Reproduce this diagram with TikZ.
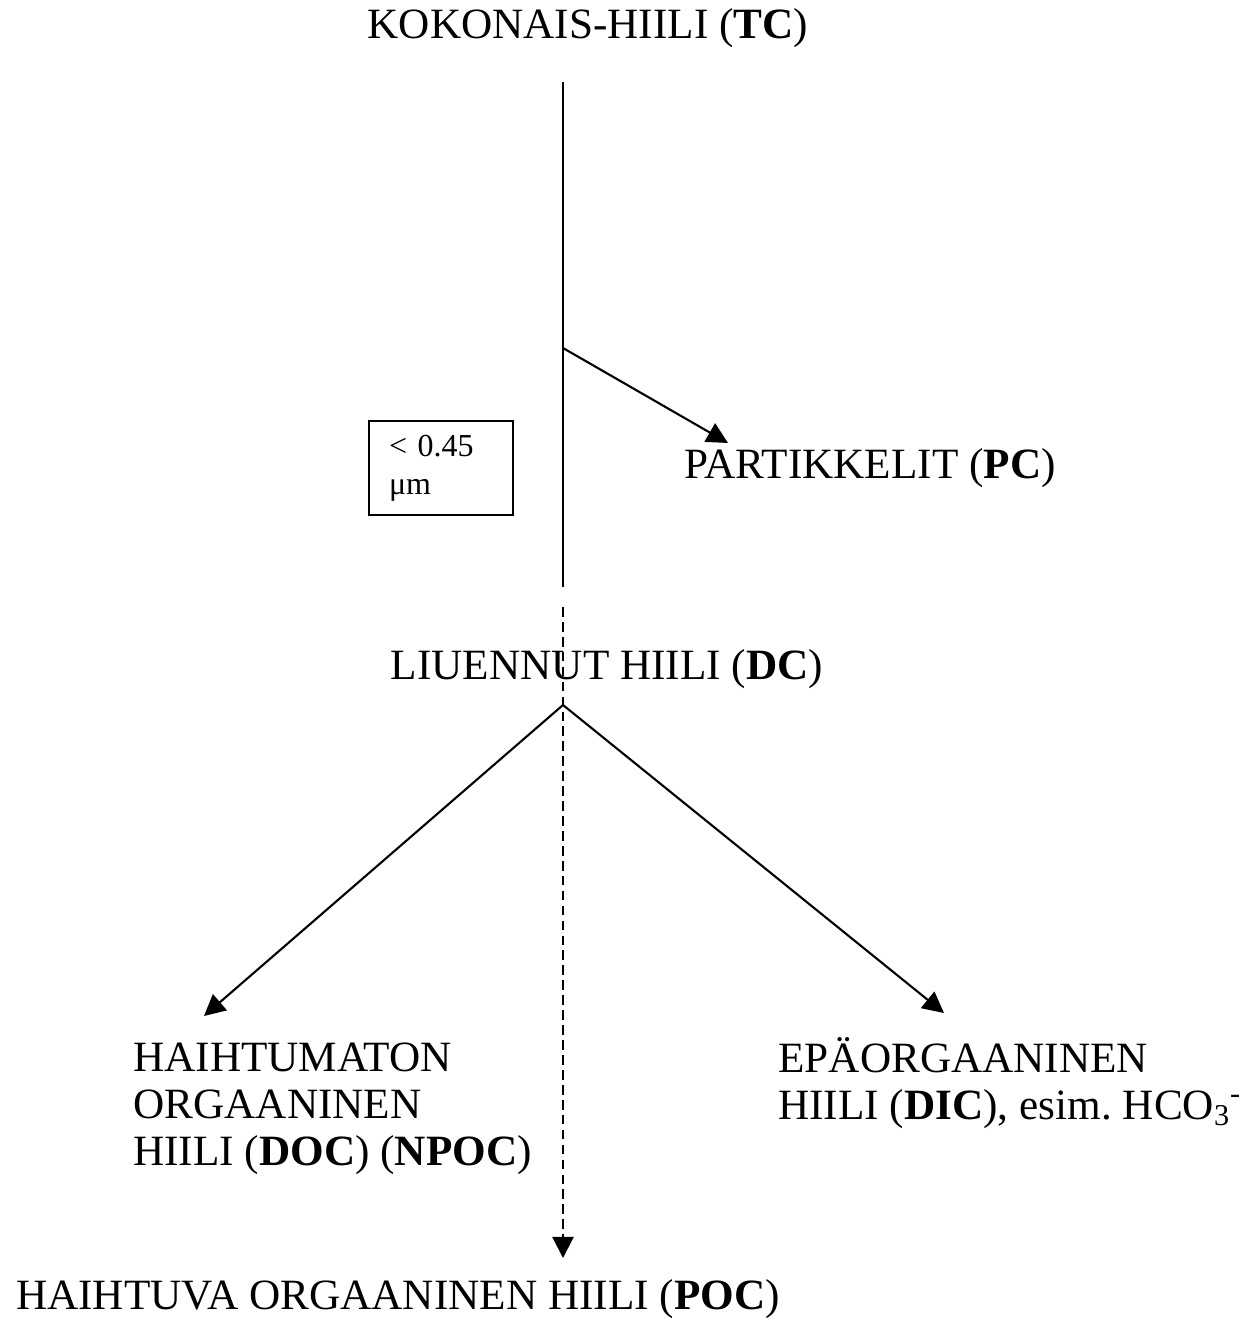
\documentclass[tikz,border=0pt]{standalone}
\usepackage{fontspec}
\setmainfont{Liberation Serif}
\usepackage{tikz}
\usetikzlibrary{arrows.meta,positioning,calc}

\begin{document}
\begin{tikzpicture}[
    x=0.02cm, y=-0.02cm,
    >=Triangle,
    arr/.style={-{Triangle[length=12pt,width=12pt]}, line width=1.2pt},
    stem/.style={line width=1.2pt},
    dashedarr/.style={-{Triangle[length=12pt,width=12pt]}, line width=1.2pt, dash pattern=on 5.5pt off 3pt},
    lbl/.style={font=\fontsize{24.6}{26.7}\selectfont, inner sep=0pt},
    sizebox/.style={draw, line width=1.2pt, font=\fontsize{18.2}{21.5}\selectfont,
      minimum width=2.88cm, minimum height=1.88cm, text width=2.08cm, align=left, inner sep=0pt},
  ]
  \useasboundingbox (0,0) rectangle (1245,1326);

  % =================== TOTAL CARBON ===================
  \node[lbl] (tc) at (588, 28) {KOKONAIS-HIILI (\textbf{TC})};
  \coordinate (stemtop) at (563, 82);
  \coordinate (stembot) at (563, 587);
  \coordinate (split) at (563, 348);
  \draw[stem] (stemtop) -- (stembot);

  % Filter size
  \node[sizebox] (filter) at (441, 468) {< 0.45\\ μm};

  % Particulate branch
  \node[lbl] (pc) at (870, 468) {PARTIKKELIT (\textbf{PC})};
  \coordinate (pctip) at (728, 443);
  \draw[arr] (split) -- (pctip);

  % =================== DISSOLVED CARBON ===================
  \node[lbl] (dc) at (607, 669) {LIUENNUT HIILI (\textbf{DC})};
  \coordinate (fork) at (563, 705);
  \coordinate (doctip) at (204, 1016);
  \coordinate (dictip) at (944, 1013);
  \draw[arr] (fork) -- (doctip);
  \draw[arr] (fork) -- (dictip);

  \node[lbl, anchor=north west, align=left] (doc) at (133, 1043)
    {HAIHTUMATON\\ORGAANINEN\\HIILI (\textbf{DOC}) (\textbf{NPOC})};
  \node[lbl, anchor=north west, align=left] (dic) at (778, 1037)
    {EPÄORGAANINEN\\HIILI (\textbf{DIC}), esim.\ HCO\textsubscript{3}\textsuperscript{-}};

  % =================== PURGEABLE ===================
  \coordinate (dashtop) at (563, 607);
  \node[lbl] (poc) at (398, 1299) {HAIHTUVA ORGAANINEN HIILI (\textbf{POC})};
  \coordinate (poctip) at (563, 1258);
  \draw[dashedarr] (dashtop) -- (poctip);

\end{tikzpicture}
\end{document}
